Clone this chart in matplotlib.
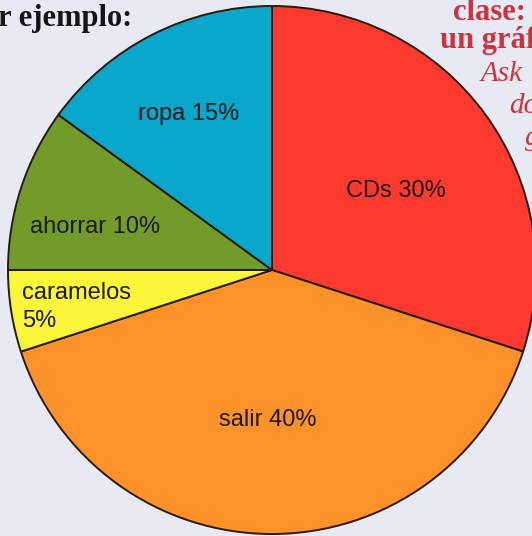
import matplotlib
matplotlib.use("Agg")
import matplotlib.pyplot as plt

# Spending split, clockwise from 12 o'clock
categories = ["CDs", "salir", "caramelos", "ahorrar", "ropa"]
percent = [30, 40, 5, 10, 15]
colors = ["#fd3a2d", "#fd922b", "#fbf63a", "#739b2a", "#08a7cb"]

W, H = 532, 536
BG = "#e7eaf2"

fig = plt.figure(figsize=(W / 100, H / 100), dpi=100, facecolor=BG)
ax = fig.add_axes([0, 0, 1, 1])
ax.set_facecolor(BG)
ax.axis("off")

cx, cy, r = 272, H - 270, 264
ax.pie(percent, colors=colors, startangle=90, counterclock=False,
       center=(cx, cy), radius=r,
       wedgeprops=dict(edgecolor="#2a1a10", linewidth=1.4))
ax.set_xlim(0, W)
ax.set_ylim(0, H)
ax.set_aspect("equal")

# label placement inside each wedge (pixel coords, y from top)
label_pos = {
    "CDs": (396, 191, "center"),
    "salir": (268, 420, "center"),
    "caramelos": (22, 307, "left"),
    "ahorrar": (95, 227, "center"),
    "ropa": (189, 114, "center"),
}
for name, pct in zip(categories, percent):
    x, y, ha = label_pos[name]
    sep = "\n" if name == "caramelos" else " "
    ax.text(x, H - y, f"{name}{sep}{pct}%", ha=ha, va="center",
            fontsize=17, family="Liberation Sans", color="#1c1a18",
            linespacing=1.32)

# surrounding page text
ax.text(-2, H - 26, "r ejemplo:", ha="left", va="baseline", fontsize=22,
        family="Liberation Serif", fontweight="bold", color="#151515")
red = "#cf323c"
ax.text(453, H - 20, "clase:", ha="left", va="baseline", fontsize=22,
        family="Liberation Serif", fontweight="bold", color=red)
ax.text(440, H - 48, "un gráfico", ha="left", va="baseline", fontsize=22,
        family="Liberation Serif", fontweight="bold", color=red)
ax.text(481, H - 81, "Ask", ha="left", va="baseline", fontsize=21,
        family="Liberation Serif", style="italic", color=red)
ax.text(509, H - 113, "do", ha="left", va="baseline", fontsize=21,
        family="Liberation Serif", style="italic", color=red)
ax.text(525, H - 145, "g", ha="left", va="baseline", fontsize=21,
        family="Liberation Serif", style="italic", color=red)

fig.savefig("out.png", dpi=100, facecolor=BG)
